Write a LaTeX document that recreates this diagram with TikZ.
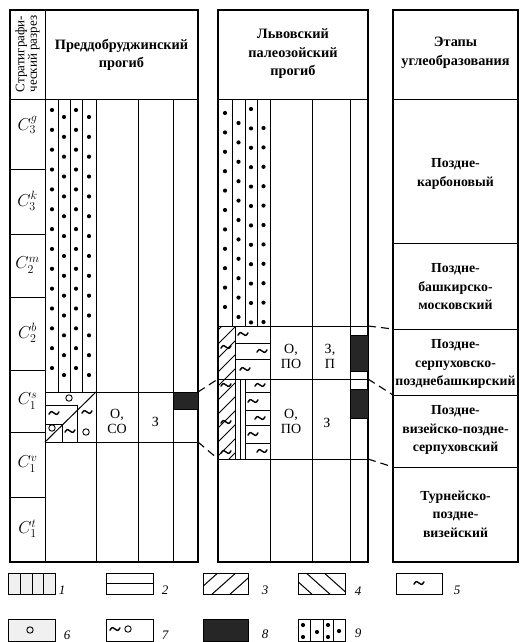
\documentclass[tikz,border=0pt]{standalone}
\usepackage{fontspec}
\setmainfont{Liberation Serif}
\usepackage{tikz}

\begin{document}
\begin{tikzpicture}[x=1pt, y=-1pt,
        frame/.style={draw=black, line width=1.2pt},
        rule/.style={draw=black, line width=1pt},
        tie/.style={draw=black, line width=1.1pt, dash pattern=on 8pt off 5pt},
        head/.style={align=center, font=\bfseries\fontsize{14.3}{18.5}\selectfont},
        stage/.style={align=center, font=\bfseries\fontsize{13.8}{18.5}\selectfont},
        cell/.style={align=center, font=\fontsize{14}{15}\selectfont},
        age/.style={font=\fontsize{17.5}{17.5}\selectfont},
        num/.style={font=\itshape\fontsize{13}{13}\selectfont},
        coal/.style={draw=black, fill=black!85, line width=0.8pt},
        tint/.style={draw=black, fill=black!6, line width=1pt},
        wave/.pic={\draw[line width=1.4pt, line cap=round] (-5pt,-1.2pt) .. controls (-3pt,3pt) and (-1.2pt,1.2pt) .. (0pt,0pt) .. controls (1.2pt,-1.2pt) and (3pt,-3pt) .. (5pt,1.2pt);}
    ]
    \useasboundingbox (0,0) rectangle (520,642);

    % Стратиграфический разрез и Преддобруджинский прогиб
    \draw[frame] (10,10) rectangle (198,562);
    \draw[rule] (10,99) -- (198,99);
    \draw[rule] (45,10) -- (45,562);
    \foreach \y in {169,234,297,370,432,497} \draw[rule] (10,\y) -- (45,\y);
    \foreach \x in {96,138,173} \draw[rule] (\x,99) -- (\x,562);
    \foreach \x in {58,70,82} \draw[rule] (\x,99) -- (\x,392);
    \draw[rule] (45,392) -- (198,392);
    \draw[rule] (45,442) -- (198,442);
    \draw[coal] (173,392) rectangle (198,409);
    \foreach \x/\s in {52/110, 64/117, 76/110, 89/117}
        \foreach \k in {0,...,13}
            \fill (\x,{\s+19.85*\k}) circle[radius=2.1pt];
    % ячейка с песчаниками и алевритами
    \draw[rule] (45,442) -- (96,392);
    \draw[rule] (45,405) -- (77,405) -- (77,442);
    \draw[rule] (45,424) -- (62,424) -- (62,442);
    \foreach \p in {(69,398), (52,428), (86,432)} \draw[line width=0.9pt] \p circle[radius=3.2pt];
    \foreach \p in {(54,413), (87,412), (70,431)} \pic at \p {wave};

    \node[rotate=90, align=center, font=\fontsize{13}{11}\selectfont] (cuthead) at (27.5,54) {Стратиграфи-\\ческий разрез};
    \node[head] (pdhead) at (121.5,55) {Преддобруджинский\\прогиб};
    \foreach \y/\t [count=\i] in {125/{C_3^g}, 201/{C_3^k}, 265/{C_2^m}, 333/{C_2^b}, 401/{C_1^s}, 464/{C_1^v}, 529/{C_1^t}}
        \node[age] (age\i) at (27.5,\y) {$\t$};
    \node[cell] (pdfac) at (117,421) {О,\\СО};
    \node[cell] (pdzone) at (155.5,422) {З};

    % Львовский палеозойский прогиб
    \draw[frame] (218,10) rectangle (368,562);
    \draw[rule] (218,99) -- (368,99);
    \foreach \x in {270,312,350} \draw[rule] (\x,99) -- (\x,562);
    \foreach \x in {232,245,257} \draw[rule] (\x,99) -- (\x,326);
    \foreach \y in {326,379,459} \draw[rule] (218,\y) -- (368,\y);
    \foreach \x/\s/\n in {225/113/10, 238.5/123/10, 251/109/11, 263.5/128/10}
        \foreach \k in {0,...,\n}
            \fill (\x,{\s+19.4*\k}) circle[radius=2.1pt];
    \begin{scope}
        \clip (218,326) rectangle (235,459);
        \foreach \y in {330,344,...,490} \draw[rule] (218,\y) -- (238,\y-20);
    \end{scope}
    \draw[rule] (235,326) -- (235,459);
    \draw[rule] (235,343) -- (270,343) (235,359) -- (270,359);
    \draw[rule] (240,379) -- (240,459) (245,379) -- (245,459);
    \foreach \y in {392,410,425,443} \draw[rule] (245,\y) -- (270,\y);
    \foreach \p in {(226,347), (226,385), (226,422), (226,452), (243,334), (262,351), (245,369),
                    (260,385), (253,401), (260,418), (253,434), (262,451)}
        \pic at \p {wave};
    \draw[coal] (350,335) rectangle (368,371);
    \draw[coal] (350,389) rectangle (368,418);

    \node[head] (lvhead) at (293,54) {Львовский\\палеозойский\\прогиб};
    \node[cell] (lvfac1) at (291,356) {О,\\ПО};
    \node[cell] (lvzone1) at (330,356) {З,\\П};
    \node[cell] (lvfac2) at (291,421) {О,\\ПО};
    \node[cell] (lvzone2) at (327,423) {З};

    % Этапы углеобразования
    \draw[frame] (393,10) rectangle (518,562);
    \foreach \y in {99,243,329,395,467} \draw[rule] (393,\y) -- (518,\y);
    \node[head] (sthead) at (455.5,53) {Этапы\\углеобразования};
    \node[stage] (stage1) at (455.5,174) {Поздне-\\карбоновый};
    \node[stage] (stage2) at (455.5,287) {Поздне-\\башкирско-\\московский};
    \node[stage] (stage3) at (455.5,364) {Поздне-\\серпуховско-\\позднебашкирский};
    \node[stage] (stage4) at (455.5,430) {Поздне-\\визейско-поздне-\\серпуховский};
    \node[stage] (stage5) at (455.5,514) {Турнейско-\\поздне-\\визейский};

    % корреляционные линии
    \coordinate (pdtop) at (198,392);
    \coordinate (pdbot) at (198,442);
    \coordinate (lvtop) at (218,379);
    \coordinate (lvbot) at (218,459);
    \coordinate (lvup) at (368,326);
    \coordinate (lvmid) at (368,379);
    \coordinate (lvlow) at (368,459);
    \coordinate (stup) at (393,329);
    \coordinate (stmid) at (393,395);
    \coordinate (stlow) at (393,467);
    \draw[tie] (pdtop) -- (lvtop);
    \draw[tie] (pdbot) -- (lvbot);
    \draw[tie] (lvup) -- (stup);
    \draw[tie] (lvmid) -- (stmid);
    \draw[tie] (lvlow) -- (stlow);

    % условные обозначения
    \draw[tint] (8,573) rectangle (55,594);
    \foreach \x in {20,32,43} \draw[rule] (\x,573) -- (\x,594);
    \node[num] (key1) at (62,590) {1};
    \draw[rule] (106,573) rectangle (153,594);
    \draw[rule] (106,583.5) -- (153,583.5);
    \node[num] (key2) at (165,590) {2};
    \draw[rule] (203,573) rectangle (248,594);
    \begin{scope}
        \clip (203,573) rectangle (248,594);
        \foreach \x in {192,210,228,246} \draw[rule] (\x,596) -- (\x+28,571);
    \end{scope}
    \node[num] (key3) at (265,590) {3};
    \draw[rule] (298,573) rectangle (345,594);
    \begin{scope}
        \clip (298,573) rectangle (345,594);
        \foreach \x in {286,304,322} \draw[rule] (\x,571) -- (\x+28,596);
    \end{scope}
    \node[num] (key4) at (358,591) {4};
    \draw[rule] (396,573) rectangle (442,594);
    \pic at (419,583) {wave};
    \node[num] (key5) at (457,590) {5};

    \draw[tint] (8,619) rectangle (55,641);
    \draw[line width=0.9pt] (30,630) circle[radius=3.2pt];
    \node[num] (key6) at (67,635) {6};
    \draw[rule] (106,619) rectangle (153,641);
    \pic at (115,629) {wave};
    \draw[line width=0.9pt] (128,629) circle[radius=3.2pt];
    \node[num] (key7) at (165,635) {7};
    \draw[coal] (203,619) rectangle (248,641);
    \node[num] (key8) at (265,634) {8};
    \draw[rule] (298,619) rectangle (345,641);
    \foreach \x in {310,323,333} \draw[rule] (\x,619) -- (\x,641);
    \foreach \p in {(303,625), (303,637), (317,632), (328,625), (328,637), (339,631)}
        \fill \p circle[radius=2.1pt];
    \node[num] (key9) at (358,633) {9};
\end{tikzpicture}
\end{document}
